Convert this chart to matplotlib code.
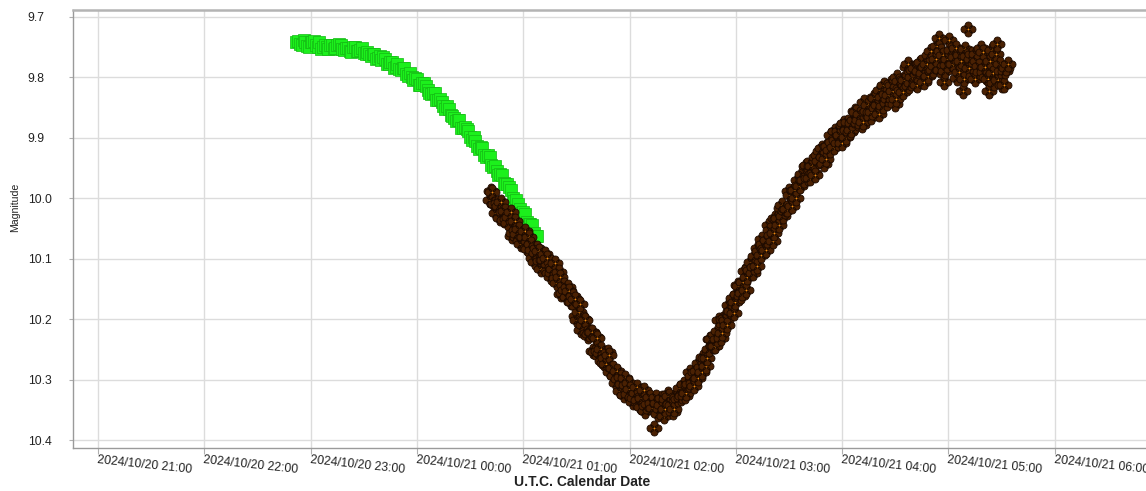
import numpy as np
import pandas as pd
import matplotlib
matplotlib.use('Agg')
import matplotlib.pyplot as plt
import matplotlib.dates as mdates
from matplotlib.path import Path

plt.rcParams['font.family'] = ['Liberation Sans', 'DejaVu Sans']

# minutes after 2024/10/21 00:00 UTC
green_min = [-68, -66, -64, -62, -60, -58, -56, -54, -52, -50, -48, -46, -44, -42,
             -40, -38, -36, -34, -32, -30, -28, -26, -24, -22, -20, -18, -16, -14,
             -12, -10, -8, -6, -4, -2, 0, 2, 4, 6, 8, 10, 12, 14, 16, 18, 20, 22,
             24, 26, 28, 30, 32, 34, 36, 38, 40, 42, 44, 46, 48, 50, 52, 54, 56,
             58, 60, 62, 64, 66, 68]
green_mag = [9.741, 9.745, 9.738, 9.748, 9.742, 9.739, 9.749, 9.753, 9.746, 9.753,
             9.746, 9.751, 9.745, 9.753, 9.751, 9.756, 9.750, 9.756, 9.754, 9.760,
             9.758, 9.765, 9.761, 9.768, 9.771, 9.769, 9.778, 9.774, 9.782, 9.786,
             9.785, 9.795, 9.793, 9.805, 9.803, 9.813, 9.810, 9.821, 9.827, 9.825,
             9.838, 9.840, 9.852, 9.852, 9.864, 9.872, 9.871, 9.884, 9.886, 9.898,
             9.899, 9.914, 9.915, 9.928, 9.929, 9.945, 9.947, 9.961, 9.962, 9.977,
             9.982, 9.999, 10.003, 10.018, 10.022, 10.039, 10.043, 10.058, 10.063]

green2_min = [-67, -65, -63, -61, -59, -57, -55, -53, -51, -49, -47, -45, -43, -41,
              -39, -37, -35, -33, -31, -29, -27, -25, -23, -21, -19, -17, -15, -13,
              -11, -9, -7, -5, -3, -1, 1, 3, 5, 7, 9, 11, 13, 15, 17, 19, 21, 23,
              25, 27, 29, 31, 33, 35, 37, 39, 41, 43, 45, 47, 49, 51, 53, 55, 57,
              59, 61, 63, 65, 67]
green2_mag = [9.739, 9.746, 9.742, 9.749, 9.741, 9.747, 9.741, 9.750, 9.749, 9.747,
              9.753, 9.747, 9.747, 9.755, 9.751, 9.758, 9.750, 9.757, 9.752, 9.761,
              9.761, 9.761, 9.769, 9.764, 9.767, 9.777, 9.775, 9.784, 9.778, 9.787,
              9.785, 9.797, 9.800, 9.801, 9.812, 9.809, 9.814, 9.825, 9.825, 9.837,
              9.835, 9.847, 9.847, 9.862, 9.867, 9.870, 9.883, 9.882, 9.889, 9.903,
              9.905, 9.919, 9.917, 9.931, 9.932, 9.948, 9.955, 9.960, 9.975, 9.977,
              9.987, 10.004, 10.009, 10.025, 10.026, 10.042, 10.045, 10.063]

brown_min = [41.0, 42.5, 44.0, 45.5, 47.0, 48.5, 50.0, 51.5, 53.0, 54.5, 56.0, 57.5,
             59.0, 60.5, 62.0, 63.5, 65.0, 66.5, 68.0, 69.5, 71.0, 72.5, 74.0, 75.5,
             77.0, 78.5, 80.0, 81.5, 83.0, 84.5, 86.0, 87.5, 89.0, 90.5, 92.0, 93.5,
             95.0, 96.5, 98.0, 99.5, 101.0, 102.5, 104.0, 105.5, 107.0, 108.5, 110.0,
             111.5, 113.0, 114.5, 116.0, 117.5, 119.0, 120.5, 122.0, 123.5, 125.0,
             126.5, 128.0, 129.5, 131.0, 132.5, 134.0, 135.5, 137.0, 138.5, 140.0,
             141.5, 143.0, 144.5, 146.0, 147.5, 149.0, 150.5, 152.0, 153.5, 155.0,
             156.5, 158.0, 159.5, 161.0, 162.5, 164.0, 165.5, 167.0, 168.5, 170.0,
             171.5, 173.0, 174.5, 176.0, 177.5, 179.0, 180.5, 182.0, 183.5, 185.0,
             186.5, 188.0, 189.5, 191.0, 192.5, 194.0, 195.5, 197.0, 198.5, 200.0,
             201.5, 203.0, 204.5, 206.0, 207.5, 209.0, 210.5, 212.0, 213.5, 215.0,
             216.5, 218.0, 219.5, 221.0, 222.5, 224.0, 225.5, 227.0, 228.5, 230.0,
             231.5, 233.0, 234.5, 236.0, 237.5, 239.0, 240.5, 242.0, 243.5, 245.0,
             246.5, 248.0, 249.5, 251.0, 252.5, 254.0, 255.5, 257.0, 258.5, 260.0,
             261.5, 263.0, 264.5, 266.0, 267.5, 269.0, 270.5, 272.0, 273.5, 275.0,
             276.5, 278.0, 279.5, 281.0, 282.5, 284.0, 285.5, 287.0, 288.5, 290.0,
             291.5, 293.0, 294.5, 296.0, 297.5, 299.0, 300.5, 302.0, 303.5, 305.0,
             306.5, 308.0, 309.5, 311.0, 312.5, 314.0, 315.5, 317.0, 318.5, 320.0,
             321.5, 323.0, 324.5, 326.0, 327.5, 329.0, 330.5, 332.0, 333.5]
brown_mag = [10.003, 9.989, 10.010, 10.007, 10.033, 10.022, 10.021, 10.041, 10.023,
             10.057, 10.052, 10.050, 10.075, 10.064, 10.082, 10.064, 10.085, 10.105,
             10.083, 10.103, 10.102, 10.092, 10.120, 10.130, 10.117, 10.132, 10.122,
             10.158, 10.143, 10.164, 10.154, 10.171, 10.166, 10.201, 10.175, 10.209,
             10.202, 10.228, 10.222, 10.253, 10.229, 10.252, 10.249, 10.273, 10.275,
             10.259, 10.281, 10.294, 10.285, 10.319, 10.308, 10.297, 10.324, 10.316,
             10.337, 10.322, 10.333, 10.346, 10.318, 10.344, 10.330, 10.339, 10.380,
             10.339, 10.348, 10.331, 10.349, 10.324, 10.341, 10.353, 10.327, 10.332,
             10.331, 10.307, 10.322, 10.308, 10.294, 10.311, 10.285, 10.272, 10.287,
             10.265, 10.264, 10.233, 10.245, 10.244, 10.220, 10.231, 10.199, 10.201,
             10.177, 10.187, 10.190, 10.158, 10.145, 10.156, 10.121, 10.131, 10.119,
             10.124, 10.096, 10.083, 10.094, 10.076, 10.085, 10.044, 10.060, 10.057,
             10.034, 10.045, 10.011, 10.021, 10.018, 9.994, 10.012, 9.986, 9.969,
             9.979, 9.969, 9.946, 9.966, 9.947, 9.958, 9.932, 9.938, 9.916, 9.943,
             9.913, 9.920, 9.907, 9.888, 9.909, 9.895, 9.879, 9.899, 9.874, 9.887,
             9.871, 9.857, 9.871, 9.879, 9.841, 9.855, 9.858, 9.857, 9.834, 9.845,
             9.821, 9.848, 9.828, 9.835, 9.810, 9.822, 9.835, 9.806, 9.821, 9.802,
             9.783, 9.815, 9.799, 9.785, 9.813, 9.776, 9.793, 9.782, 9.798, 9.756,
             9.788, 9.770, 9.735, 9.757, 9.808, 9.780, 9.738, 9.778, 9.767, 9.801,
             9.763, 9.822, 9.753, 9.720, 9.769, 9.797, 9.762, 9.781, 9.752, 9.791,
             9.799, 9.822, 9.755, 9.810, 9.745, 9.777, 9.812, 9.789, 9.777]

brown2_min = [41.75, 43.25, 44.75, 46.25, 47.75, 49.25, 50.75, 52.25, 53.75, 55.25,
              56.75, 58.25, 59.75, 61.25, 62.75, 64.25, 65.75, 67.25, 68.75, 70.25,
              71.75, 73.25, 74.75, 76.25, 77.75, 79.25, 80.75, 82.25, 83.75, 85.25,
              86.75, 88.25, 89.75, 91.25, 92.75, 94.25, 95.75, 97.25, 98.75, 100.25,
              101.75, 103.25, 104.75, 106.25, 107.75, 109.25, 110.75, 112.25, 113.75,
              115.25, 116.75, 118.25, 119.75, 121.25, 122.75, 124.25, 125.75, 127.25,
              128.75, 130.25, 131.75, 133.25, 134.75, 136.25, 137.75, 139.25, 140.75,
              142.25, 143.75, 145.25, 146.75, 148.25, 149.75, 151.25, 152.75, 154.25,
              155.75, 157.25, 158.75, 160.25, 161.75, 163.25, 164.75, 166.25, 167.75,
              169.25, 170.75, 172.25, 173.75, 175.25, 176.75, 178.25, 179.75, 181.25,
              182.75, 184.25, 185.75, 187.25, 188.75, 190.25, 191.75, 193.25, 194.75,
              196.25, 197.75, 199.25, 200.75, 202.25, 203.75, 205.25, 206.75, 208.25,
              209.75, 211.25, 212.75, 214.25, 215.75, 217.25, 218.75, 220.25, 221.75,
              223.25, 224.75, 226.25, 227.75, 229.25, 230.75, 232.25, 233.75, 235.25,
              236.75, 238.25, 239.75, 241.25, 242.75, 244.25, 245.75, 247.25, 248.75,
              250.25, 251.75, 253.25, 254.75, 256.25, 257.75, 259.25, 260.75, 262.25,
              263.75, 265.25, 266.75, 268.25, 269.75, 271.25, 272.75, 274.25, 275.75,
              277.25, 278.75, 280.25, 281.75, 283.25, 284.75, 286.25, 287.75, 289.25,
              290.75, 292.25, 293.75, 295.25, 296.75, 298.25, 299.75, 301.25, 302.75,
              304.25, 305.75, 307.25, 308.75, 310.25, 311.75, 313.25, 314.75, 316.25,
              317.75, 319.25, 320.75, 322.25, 323.75, 325.25, 326.75, 328.25, 329.75,
              331.25, 332.75]
brown2_mag = [9.988, 10.010, 10.024, 10.012, 10.006, 10.036, 10.035, 10.031, 10.062,
              10.037, 10.059, 10.071, 10.064, 10.054, 10.084, 10.076, 10.099, 10.091,
              10.087, 10.117, 10.102, 10.098, 10.123, 10.124, 10.107, 10.141, 10.130,
              10.157, 10.151, 10.147, 10.171, 10.161, 10.195, 10.189, 10.218, 10.199,
              10.223, 10.224, 10.222, 10.255, 10.232, 10.256, 10.269, 10.264, 10.255,
              10.287, 10.281, 10.305, 10.299, 10.295, 10.325, 10.309, 10.305, 10.329,
              10.330, 10.312, 10.344, 10.330, 10.352, 10.340, 10.329, 10.347, 10.329,
              10.357, 10.342, 10.361, 10.332, 10.328, 10.342, 10.348, 10.329, 10.314,
              10.327, 10.328, 10.309, 10.287, 10.306, 10.287, 10.298, 10.279, 10.262,
              10.278, 10.250, 10.233, 10.245, 10.233, 10.202, 10.223, 10.198, 10.209,
              10.186, 10.165, 10.172, 10.144, 10.161, 10.139, 10.151, 10.115, 10.105,
              10.113, 10.112, 10.087, 10.067, 10.083, 10.069, 10.052, 10.070, 10.032,
              10.033, 10.016, 10.029, 10.017, 9.988, 10.009, 9.986, 9.999, 9.978,
              9.960, 9.970, 9.945, 9.966, 9.946, 9.962, 9.929, 9.921, 9.932, 9.935,
              9.913, 9.896, 9.915, 9.903, 9.889, 9.909, 9.875, 9.887, 9.891, 9.875,
              9.855, 9.876, 9.860, 9.874, 9.857, 9.845, 9.866, 9.833, 9.851, 9.860,
              9.833, 9.812, 9.843, 9.829, 9.813, 9.844, 9.799, 9.818, 9.824, 9.804,
              9.778, 9.809, 9.788, 9.811, 9.790, 9.775, 9.808, 9.777, 9.763, 9.789,
              9.781, 9.748, 9.787, 9.763, 9.790, 9.770, 9.755, 9.778, 9.752, 9.791,
              9.772, 9.802, 9.764, 9.785, 9.761, 9.802, 9.773, 9.791, 9.758, 9.783,
              9.802, 9.772, 9.792, 9.762, 9.804, 9.789, 9.812, 9.784]

base = pd.Timestamp('2024-10-21 00:00')
green_all = sorted(zip(green_min + green2_min, green_mag + green2_mag))
brown_all = sorted(zip(brown_min + brown2_min, brown_mag + brown2_mag))
green_t = base + pd.to_timedelta([p[0] for p in green_all], unit='min')
green_m = [p[1] for p in green_all]
brown_t = base + pd.to_timedelta([p[0] for p in brown_all], unit='min')
brown_m = [p[1] for p in brown_all]

# four-lobed marker
lobes = [Path.circle((dx, dy), 3.5) for dx, dy in [(4, 0), (-4, 0), (0, 4), (0, -4)]]
clover = Path.make_compound_path(*lobes)

fig = plt.figure(figsize=(11.46, 4.91), dpi=100)
ax = fig.add_axes([73 / 1146, 43 / 491, 1080 / 1146, 438 / 491])

ax.plot(green_t, green_m, linestyle='none', marker='s', markersize=8.6,
        markerfacecolor='#1cf01c', markeredgecolor='#14b814', markeredgewidth=0.5, zorder=3)

for t, m in zip(brown_t, brown_m):
    ax.plot([t], [m], linestyle='none', marker=clover, markersize=10.8,
            markerfacecolor='#4a2103', markeredgecolor='#1c0a00', markeredgewidth=0.6, zorder=4)
    ax.plot([t], [m], linestyle='none', marker='o', markersize=1.4,
            markerfacecolor='#f08a10', markeredgewidth=0, zorder=4)

x0 = pd.Timestamp('2024-10-20 21:00') - pd.Timedelta(hours=25 / 106.3)
x1 = pd.Timestamp('2024-10-20 21:00') + pd.Timedelta(hours=(1153 - 98) / 106.3)
ax.set_xlim(x0, x1)
ax.set_ylim(10.4 + 8 / 604.3, 9.7 - 7 / 604.3)

ax.xaxis.set_major_locator(mdates.HourLocator())
ax.xaxis.set_major_formatter(mdates.DateFormatter('%Y/%m/%d %H:%M'))
ax.set_yticks([9.7, 9.8, 9.9, 10.0, 10.1, 10.2, 10.3, 10.4])
ax.set_yticklabels(['9.7', '9.8', '9.9', '10.0', '10.1', '10.2', '10.3', '10.4'])

ax.grid(True, color='#dcdcdc', linewidth=1)
ax.set_axisbelow(True)
for side in ['left', 'bottom']:
    ax.spines[side].set_color('#9a9a9a')
    ax.spines[side].set_linewidth(1.0)
ax.spines['top'].set_color('#b4b4b4')
ax.spines['top'].set_linewidth(1.8)
ax.spines['right'].set_visible(False)

ax.tick_params(axis='x', direction='out', length=4, color='#b0b0b0', pad=0,
               labelsize=8.8, labelcolor='#222222')
ax.tick_params(axis='y', direction='out', length=3, color='#b0b0b0', pad=29.5,
               labelsize=8.8, labelcolor='#222222')
for lab in ax.get_xticklabels():
    lab.set_rotation(-6)
    lab.set_ha('left')
    lab.set_va('top')
    lab.set_rotation_mode('anchor')
for lab in ax.get_yticklabels():
    lab.set_ha('left')

fig.text(15 / 1146, 1 - 207 / 491, 'Magnitude', rotation=90, ha='center', va='center',
         fontsize=7.6, color='#222222')
fig.text(582 / 1146, 1 - 482 / 491, 'U.T.C. Calendar Date', ha='center', va='center',
         fontsize=10, fontweight='bold', color='#222222')

fig.savefig('out.png', dpi=100)
